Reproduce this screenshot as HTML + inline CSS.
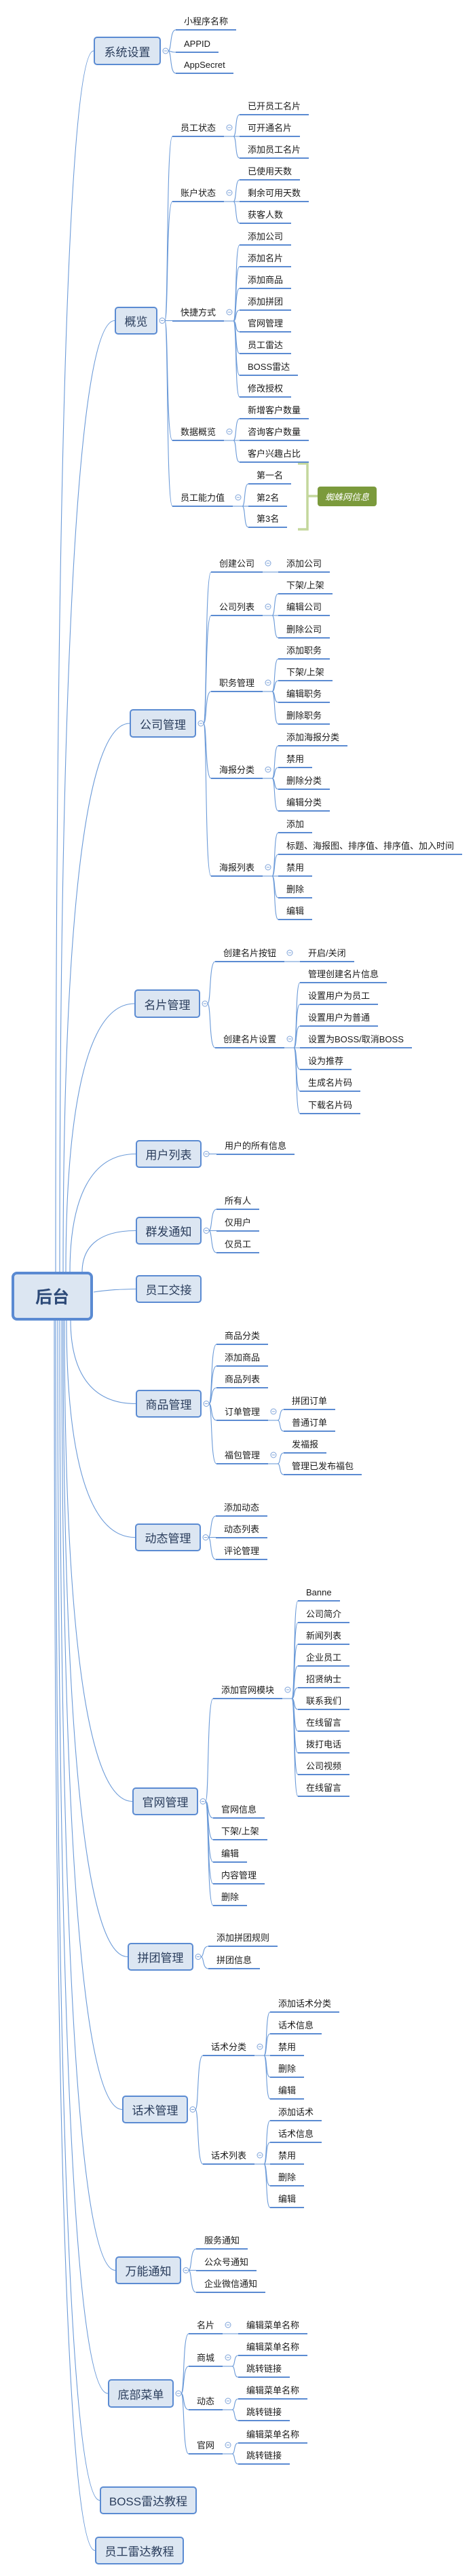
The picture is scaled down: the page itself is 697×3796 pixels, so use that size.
<!DOCTYPE html>
<html><head><meta charset="utf-8">
<style>
html,body{margin:0;padding:0;background:#fff;}
body{width:697px;height:3796px;position:relative;overflow:hidden;font-family:"Liberation Sans","Noto Sans CJK SC",sans-serif;}
svg{position:absolute;left:0;top:0;}
.u{position:absolute;height:22px;line-height:22px;padding:0 12px;font-size:13px;color:#1a1a1a;border-bottom:2.5px solid #5b8bd2;white-space:nowrap;box-sizing:content-box;}
.b{position:absolute;box-sizing:border-box;background:#dce6f2;border:2px solid #5b8bd2;border-radius:5px;font-size:17px;color:#2a3d5c;display:flex;align-items:center;justify-content:center;white-space:nowrap;}
.root{border:4px solid #5a8ad2;border-radius:8px;font-size:25px;font-weight:bold;color:#2d4a78;}
.sum{position:absolute;left:468px;top:717px;width:87px;height:29px;background:#7b9a3c;border-radius:4px;color:#fff;font-style:italic;font-size:13px;display:flex;align-items:center;justify-content:center;}
</style></head><body>
<svg id="s" width="697" height="3796" xmlns="http://www.w3.org/2000/svg"></svg>
<div class="sum">蜘蛛网信息</div>
<script>
var S=document.getElementById('s');var NS='http://www.w3.org/2000/svg';
function P(d,w,c){var p=document.createElementNS(NS,'path');p.setAttribute('d',d);p.setAttribute('fill','none');p.setAttribute('stroke',c||'#6b9ad8');p.setAttribute('stroke-width',w||1.1);S.appendChild(p);}
function C(x,y){var c=document.createElementNS(NS,'circle');c.setAttribute('cx',x);c.setAttribute('cy',y);c.setAttribute('r',4);c.setAttribute('fill','#fff');c.setAttribute('stroke','#7ea3d9');c.setAttribute('stroke-width',1);S.appendChild(c);P('M'+(x-2.2)+','+y+'H'+(x+2.2),1,'#7ea3d9');}
function div(cls,t,x,y,w,h){var d=document.createElement('div');d.className=cls;d.textContent=t;d.style.left=x+'px';d.style.top=y+'px';if(w){d.style.width=w+'px';d.style.height=h+'px';}document.body.appendChild(d);return d;}
function branch(ox,oy,kids,cx){kids.forEach(function(k){var y=k[1];if(Math.abs(y-oy)<1){P('M'+ox+','+oy+'H'+cx);}else{P('M'+ox+','+oy+'C'+(ox+5)+','+oy+' '+(ox+2)+','+y+' '+cx+','+y);}});}
function N(k,x){var d=div('u',k[0],x,k[1]-23);var r=x+d.offsetWidth;var kids=k[2];
 if(kids&&kids.length){C(r+8,k[1]-13);P('M'+r+','+k[1]+'H'+(r+14));branch(r+14,k[1],kids,r+23);kids.forEach(function(c){N(c,r+23);});}}
function B(t,x,top,w,h,kids){div('b',t,x,top,w,h);var cy=top+h/2,r=x+w;if(kids&&kids.length){C(r+7,cy);branch(r+11,cy,kids,r+22);kids.forEach(function(c){N(c,r+22);});}return [x,cy];}
var boxes=[
['系统设置',138,54,99,42,[['小程序名称',44],['APPID',77],['AppSecret',108]],82,1875],
['概览',169,452,63,41,[['员工状态',201,[['已开员工名片',169],['可开通名片',201],['添加员工名片',233]]],['账户状态',297,[['已使用天数',265],['剩余可用天数',297],['获客人数',329]]],['快捷方式',473,[['添加公司',361],['添加名片',393],['添加商品',425],['添加拼团',457],['官网管理',489],['员工雷达',521],['BOSS雷达',553],['修改授权',585]]],['数据概览',649,[['新增客户数量',617],['咨询客户数量',649],['客户兴趣占比',681]]],['员工能力值',746,[['第一名',713],['第2名',746],['第3名',777]]]],88,1875],
['公司管理',191,1045,98,42,[['创建公司',843,[['添加公司',843]]],['公司列表',907,[['下架/上架',875],['编辑公司',907],['删除公司',940]]],['职务管理',1019,[['添加职务',971],['下架/上架',1003],['编辑职务',1035],['删除职务',1067]]],['海报分类',1147,[['添加海报分类',1099],['禁用',1131],['删除分类',1163],['编辑分类',1195]]],['海报列表',1291,[['添加',1227],['标题、海报图、排序值、排序值、加入时间',1259],['禁用',1291],['删除',1323],['编辑',1355]]]],93,1875],
['名片管理',198,1458,97,42,[['创建名片按钮',1417,[['开启/关闭',1417]]],['创建名片设置',1544,[['管理创建名片信息',1448],['设置用户为员工',1480],['设置用户为普通',1512],['设置为BOSS/取消BOSS',1544],['设为推荐',1576],['生成名片码',1608],['下载名片码',1641]]]],97,1875],
['用户列表',200,1680,97,41,[['用户的所有信息',1701]],103,1875],
['群发通知',200,1793,97,41,[['所有人',1782],['仅用户',1814],['仅员工',1846]],121,1875],
['员工交接',200,1879,97,41,[],138,1904],
['商品管理',200,2048,97,41,[['商品分类',1981],['添加商品',2013],['商品列表',2045],['订单管理',2093,[['拼团订单',2077],['普通订单',2109]]],['福包管理',2157,[['发福报',2141],['管理已发布福包',2173]]]],104,1945],
['动态管理',199,2245,97,41,[['添加动态',2234],['动态列表',2266],['评论管理',2298]],98,1945],
['官网管理',195,2634,97,41,[['添加官网模块',2503,[['Banne',2359],['公司简介',2391],['新闻列表',2423],['企业员工',2455],['招贤纳士',2487],['联系我们',2519],['在线留言',2551],['拨打电话',2583],['公司视频',2615],['在线留言',2647]]],['官网信息',2679],['下架/上架',2711],['编辑',2744],['内容管理',2776],['删除',2808]],95,1945],
['拼团管理',188,2863,97,41,[['添加拼团规则',2868],['拼团信息',2901]],93,1945],
['话术管理',180,3088,97,41,[['话术分类',3029,[['添加话术分类',2965],['话术信息',2997],['禁用',3029],['删除',3061],['编辑',3093]]],['话术列表',3189,[['添加话术',3125],['话术信息',3157],['禁用',3189],['删除',3221],['编辑',3253]]]],91,1945],
['万能通知',170,3325,97,41,[['服务通知',3314],['公众号通知',3346],['企业微信通知',3378]],88,1945],
['底部菜单',159,3506,97,42,[['名片',3439,[['编辑菜单名称',3439]]],['商城',3487,[['编辑菜单名称',3471],['跳转链接',3503]]],['动态',3551,[['编辑菜单名称',3535],['跳转链接',3567]]],['官网',3616,[['编辑菜单名称',3600],['跳转链接',3631]]]],85,1945],
['BOSS雷达教程',147,3664,143,41,[],82,1945],
['员工雷达教程',140,3738,131,41,[],80,1945]
];
boxes.forEach(function(b){var p=B(b[0],b[1],b[2],b[3],b[4],b[5]);var sx=b[6],sy=b[7],bx=p[0],cy=p[1];
 if(b[0]=='员工交接'){P('M'+sx+','+sy+'C165,1900 180,1900 '+bx+','+cy);}
 else{P('M'+sx+','+sy+'C'+sx+','+(cy+(sy-cy)*0.45)+' '+(sx+(bx-sx)*0.25)+','+cy+' '+bx+','+cy);}});
div('b root','后台',17,1874,120,72);
P('M439,683H453V780H439',3.5,'#c4d79c');P('M453,731H468',3.5,'#c4d79c');
</script>
</body></html>
